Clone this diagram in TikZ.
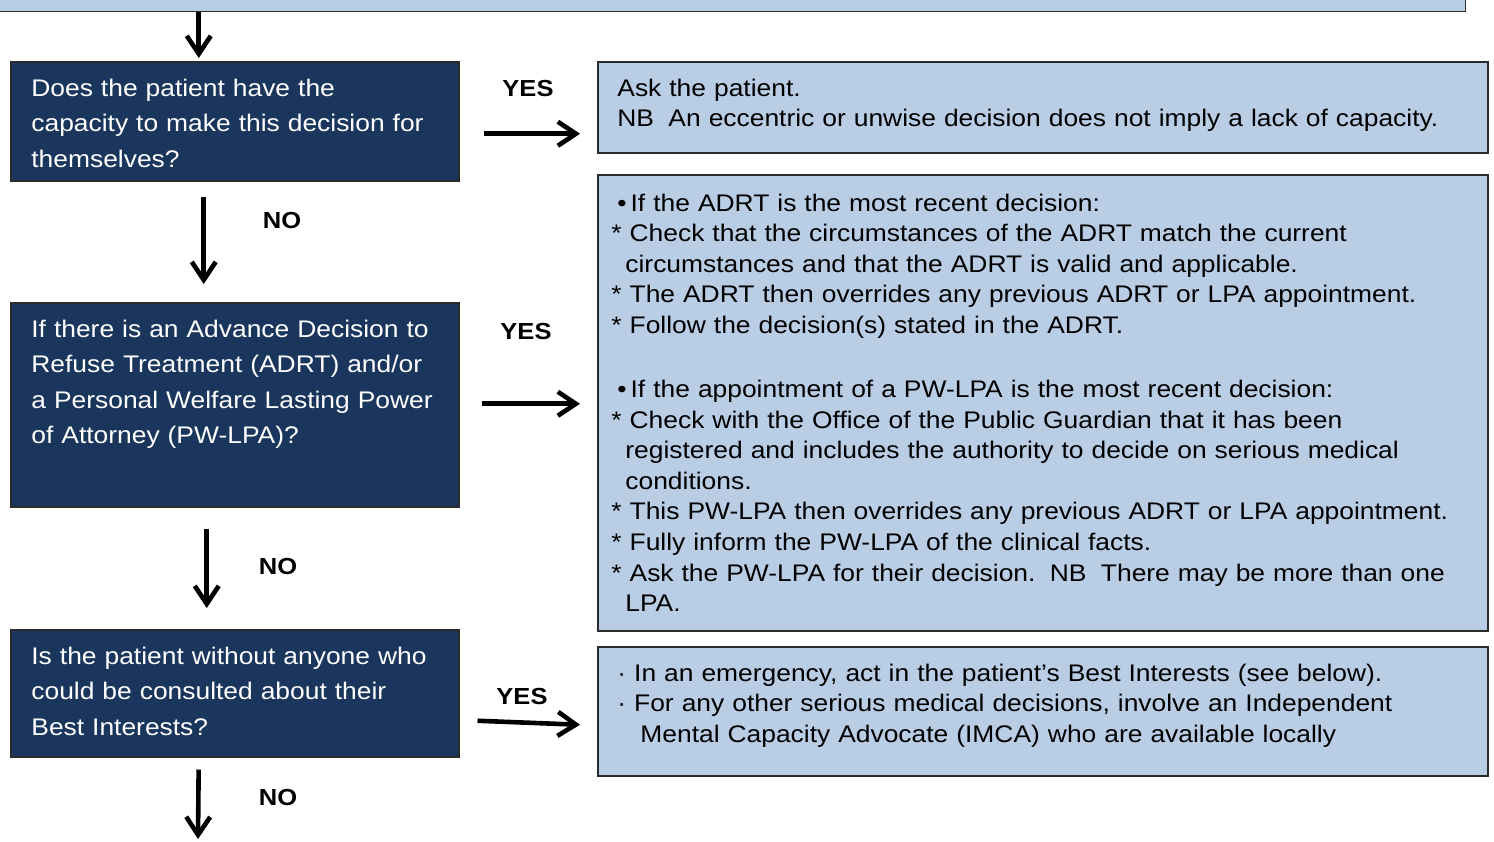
\documentclass[tikz,border=0pt]{standalone}
\usepackage{fontspec}
\setmainfont{Liberation Sans}[FakeStretch=1.1]
\usetikzlibrary{arrows.meta,calc}

\definecolor{navy}{HTML}{1B365D}
\definecolor{paleblue}{HTML}{B9CDE5}
\definecolor{edge}{HTML}{2B2B2B}

\tikzset{
  darkbox/.style={draw=edge, line width=0.75pt, fill=navy, anchor=north west, inner sep=0pt},
  lightbox/.style={draw=edge, line width=0.75pt, fill=paleblue, anchor=north west, inner sep=0pt},
  qtext/.style={anchor=base west, inner sep=0pt, text width=440pt, align=left,
    text=white, font=\fontsize{12pt}{17.8pt}\selectfont},
  atext/.style={anchor=base west, inner sep=0pt, text width=440pt, align=left,
    text=black, font=\fontsize{12pt}{15.3pt}\selectfont},
  answer/.style={inner sep=0pt, font=\fontsize{11.6pt}{14pt}\selectfont\bfseries},
  flow/.style={line width=2.3pt, -{Straight Barb[length=9pt,width=12pt,line width=2.3pt]}}
}
% list marks used in the answer boxes
\newcommand{\bulletmark}{\hspace*{3pt}•\,}
\newcommand{\starmark}{{*}~}

\begin{document}
\begin{tikzpicture}[x=0.5pt, y=-0.5pt]
\useasboundingbox (0,0) rectangle (1494,841);

% band of the previous step
\node[lightbox, anchor=south east, minimum width=740pt, minimum height=20pt] (top) at (1466,12) {};

% question boxes
\node[darkbox, minimum width=224pt, minimum height=59.5pt] (q1) at (10,61) {};
\node[darkbox, minimum width=224pt, minimum height=102pt] (q2) at (10,302) {};
\node[darkbox, minimum width=224pt, minimum height=63.5pt] (q3) at (10,629) {};

% answer boxes
\node[lightbox, minimum width=445pt, minimum height=45.5pt] (r1) at (597,61) {};
\node[lightbox, minimum width=445pt, minimum height=228pt] (r2) at (597,174) {};
\node[lightbox, minimum width=445pt, minimum height=64.5pt] (r3) at (597,646) {};

% question texts
\node[qtext] (q1t) at ($(q1.north west)+(21,35)$)
  {Does the patient have the\\capacity to make this decision for\\themselves?};
\node[qtext] (q2t) at ($(q2.north west)+(21,35)$)
  {If there is an Advance Decision to\\Refuse Treatment (ADRT) and/or\\a Personal Welfare Lasting Power\\of Attorney (PW-LPA)?};
\node[qtext] (q3t) at ($(q3.north west)+(21,35)$)
  {Is the patient without anyone who\\could be consulted about their\\Best Interests?};

% answer texts
\node[atext] (r1t) at ($(r1.north west)+(20,35)$)
  {Ask the patient.\\NB\hspace{0.6em}An eccentric or unwise decision does not imply a lack of capacity.};
\node[atext] (r2t) at ($(r2.north west)+(14,37)$)
  {\bulletmark If the ADRT is the most recent decision:\\
   \starmark Check that the circumstances of the ADRT match the current\\
   \hspace*{7pt}circumstances and that the ADRT is valid and applicable.\\
   \starmark The ADRT then overrides any previous ADRT or LPA appointment.\\
   \starmark Follow the decision(s) stated in the ADRT.\\[16.7pt]
   \bulletmark If the appointment of a PW-LPA is the most recent decision:\\
   \starmark Check with the Office of the Public Guardian that it has been\\
   \hspace*{7pt}registered and includes the authority to decide on serious medical\\
   \hspace*{7pt}conditions.\\
   \starmark This PW-LPA then overrides any previous ADRT or LPA appointment.\\
   \starmark Fully inform the PW-LPA of the clinical facts.\\
   \starmark Ask the PW-LPA for their decision.\hspace{0.6em}NB\hspace{0.6em}There may be more than one\\
   \hspace*{7pt}LPA.};
\node[atext] (r3t) at ($(r3.north west)+(20,35)$)
  {· In an emergency, act in the patient’s Best Interests (see below).\\
   · For any other serious medical decisions, involve an Independent\\
   \hspace*{11.5pt}Mental Capacity Advocate (IMCA) who are available locally};

% branch labels
\node[answer] (y1) at (528,89) {YES};
\node[answer] (y2) at (526,332) {YES};
\node[answer] (y3) at (522,697) {YES};
\node[answer] (n1) at (282,221) {NO};
\node[answer] (n2) at (278,567) {NO};
\node[answer] (n3) at (278,798) {NO};

% connectors
\coordinate (t0) at ([xshift=-18pt]q1.north);
\draw[flow, shorten >=1.5pt] (top.south -| t0) -- (t0);

\draw[flow, shorten <=7.5pt, shorten >=9pt] ([xshift=-15.5pt]q1.south) -- ([xshift=-15.5pt]q2.north);
\draw[flow, shorten <=10.5pt, shorten >=10.5pt] ([xshift=-14pt]q2.south) -- ([xshift=-14pt]q3.north);
\coordinate (exit) at (198,839);
\draw[flow, shorten <=6pt] ([xshift=-18pt]q3.south) -- (exit);

\draw[flow, shorten <=12pt, shorten >=8.5pt] ([yshift=-6.25pt]q1.east) -- ([yshift=-6.25pt]q1.east -| r1.west);
\draw[flow, shorten <=11pt, shorten >=8.5pt] ([yshift=0.5pt]q2.east) -- ([yshift=0.5pt]q2.east -| r2.west);
\draw[flow] ([xshift=9pt,yshift=-13.75pt]q3.east) -- ([xshift=-8.5pt,yshift=-6.75pt]r3.west);
\end{tikzpicture}
\end{document}
